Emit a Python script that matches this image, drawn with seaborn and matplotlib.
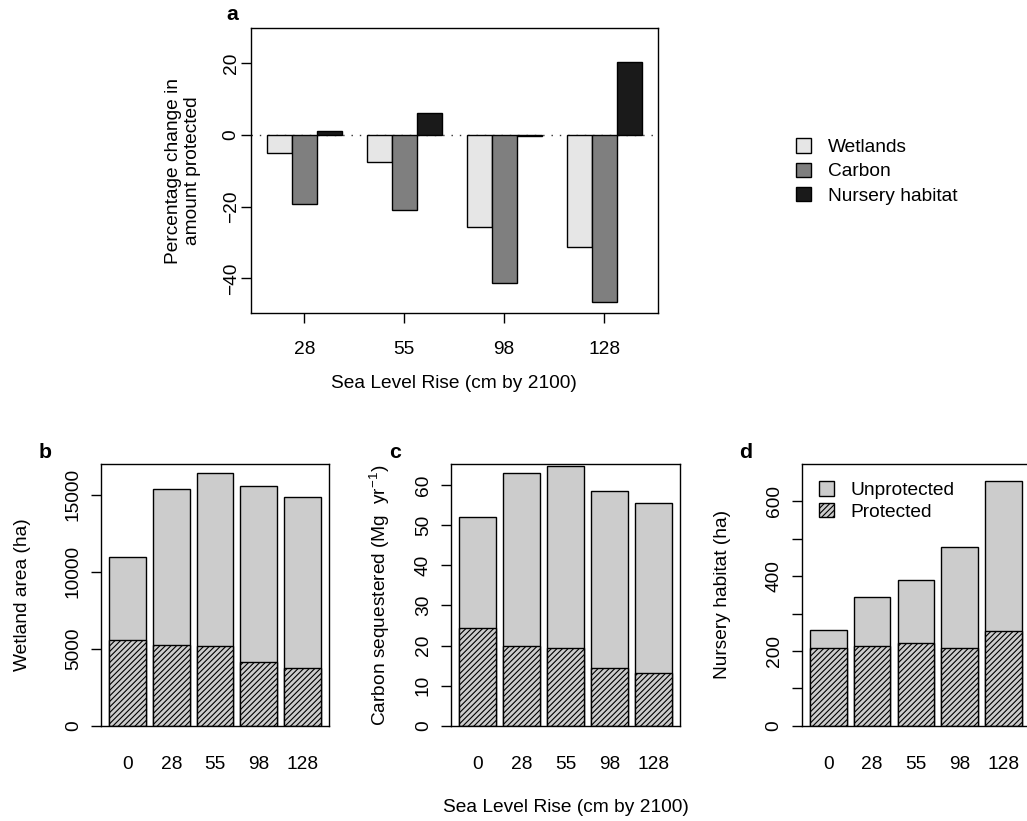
import numpy as np
import pandas as pd
import seaborn as sns
import matplotlib
matplotlib.use("Agg")
import matplotlib.pyplot as plt
from matplotlib.patches import Patch

# ---------------- data ----------------
slr_change = ["28", "55", "98", "128"]
series_names = ["Wetlands", "Carbon", "Nursery habitat"]
pct_wetlands = [-4.9, -7.5, -25.7, -31.3]
pct_carbon = [-19.2, -20.9, -41.2, -46.6]
pct_nursery = [1.2, 6.1, -0.4, 20.4]

slr = ["0", "28", "55", "98", "128"]
wet_total = [10950, 15350, 16430, 15590, 14850]
wet_prot = [5570, 5230, 5160, 4160, 3730]
carb_total = [52.1, 63.0, 64.7, 58.5, 55.5]
carb_prot = [24.4, 19.8, 19.4, 14.3, 13.1]
nurs_total = [256, 345, 389, 478, 655]
nurs_prot = [208, 212, 222, 208, 252]

# ---------------- style ----------------
sns.set_theme(style="white")
plt.rcParams["font.family"] = ["Liberation Sans", "DejaVu Sans"]
plt.rcParams["text.color"] = "black"
plt.rcParams["axes.labelcolor"] = "black"
plt.rcParams["hatch.linewidth"] = 0.8
plt.rcParams["hatch.color"] = "#222222"
plt.rcParams["mathtext.fontset"] = "custom"
plt.rcParams["mathtext.rm"] = "Liberation Sans"
FS = 13.8
TICKLEN = 7.2

W, H = 1027, 821
fig = plt.figure(figsize=(W / 100, H / 100), dpi=100)


def frac(l, t, r, b):
    return [l / W, 1 - b / H, (r - l) / W, (b - t) / H]


def style_box(ax):
    for s in ax.spines.values():
        s.set_visible(True)
        s.set_color("black")
        s.set_linewidth(1.0)


# ---------------- panel a ----------------
axa = fig.add_axes(frac(251, 27.7, 657.5, 313.3))
dfa = pd.DataFrame({
    "slr": np.repeat(slr_change, 3),
    "series": series_names * len(slr_change),
    "value": np.ravel(np.column_stack([pct_wetlands, pct_carbon, pct_nursery])),
})
sns.barplot(data=dfa, x="slr", y="value", hue="series", order=slr_change,
            hue_order=series_names, palette=["#E6E6E6", "#7F7F7F", "#1A1A1A"],
            saturation=1, edgecolor="black", linewidth=1.0, width=0.75,
            errorbar=None, legend=False, ax=axa)
axa.axhline(0, color="#333333", linestyle=(0, (1, 5)), linewidth=1.0, zorder=0)
axa.set_xlim(-0.535, 3.535)
axa.set_ylim(-49.7, 29.9)
style_box(axa)
axa.set_yticks([-40, -20, 0, 20])
axa.set_yticklabels(["\u221240", "\u221220", "0", "20"], rotation=90, va="center")
axa.set_xticks(range(len(slr_change)))
axa.set_xticklabels(slr_change)
axa.tick_params(axis="both", direction="out", length=TICKLEN, width=1.0,
                labelsize=FS, colors="black", bottom=True, left=True)
axa.tick_params(axis="x", pad=13)
axa.tick_params(axis="y", pad=1)
axa.set_xlabel("Sea Level Rise (cm by 2100)", fontsize=FS, labelpad=12)
axa.set_ylabel("")
axa.text(-0.168, 0.5, "Percentage change in\namount protected", transform=axa.transAxes,
         rotation=90, ha="center", va="center", fontsize=FS, linespacing=1.15)
axa.text(-0.045, 1.045, "a", transform=axa.transAxes, fontsize=FS + 1.5,
         fontweight="bold", ha="center", va="center")
handles = [Patch(facecolor=c, edgecolor="black", linewidth=1.0)
           for c in ["#E6E6E6", "#7F7F7F", "#1A1A1A"]]
fig.legend(handles, series_names, loc="center left",
           bbox_to_anchor=(796 / W, 1 - 171.5 / H), frameon=False, fontsize=FS,
           handlelength=0.8, handleheight=0.8, handletextpad=0.85,
           labelspacing=0.33, borderaxespad=0, borderpad=0)

# ---------------- panels b-d ----------------
PROT_HATCH = "//////"
UNPROT = "#CCCCCC"


def stacked(ax, total, prot, ylim, yticks, yticklabels, ylabel, ylab_x, letter):
    df = pd.DataFrame({"slr": slr, "total": total, "prot": prot})
    sns.barplot(data=df, x="slr", y="total", order=slr, color=UNPROT, saturation=1,
                edgecolor="black", linewidth=1.0, width=0.833, errorbar=None, ax=ax)
    sns.barplot(data=df, x="slr", y="prot", order=slr, color=UNPROT, saturation=1,
                edgecolor="black", linewidth=1.0, width=0.833, errorbar=None,
                hatch=PROT_HATCH, ax=ax)
    ax.set_xlim(-0.61, 4.61)
    ax.set_ylim(*ylim)
    style_box(ax)
    ax.set_yticks(yticks)
    ax.set_yticklabels(yticklabels, rotation=90, va="center")
    ax.tick_params(axis="y", direction="out", length=TICKLEN, width=1.0, labelsize=FS,
                   colors="black", left=True, pad=6.5)
    ax.tick_params(axis="x", length=0, labelsize=FS, colors="black", pad=21.5)
    ax.set_xlabel("")
    ax.set_ylabel("")
    ax.text(ylab_x, 0.5, ylabel, transform=ax.transAxes, rotation=90,
            ha="center", va="center", fontsize=FS)
    ax.text(-0.245, 1.045, letter, transform=ax.transAxes, fontsize=FS + 1.5,
            fontweight="bold", ha="center", va="center")


axb = fig.add_axes(frac(101, 464, 329, 725.7))
stacked(axb, wet_total, wet_prot, (0, 17000), [0, 5000, 10000, 15000],
        ["0", "5000", "10000", "15000"], "Wetland area (ha)", -0.345, "b")

axc = fig.add_axes(frac(451, 464, 680, 725.7))
stacked(axc, carb_total, carb_prot, (0, 65.3), [0, 10, 20, 30, 40, 50, 60],
        ["0", "10", "20", "30", "40", "50", "60"],
        "Carbon sequestered (Mg  yr$^{-1}$)", -0.31, "c")
axc.set_xlabel("Sea Level Rise (cm by 2100)", fontsize=FS, labelpad=19)

axd = fig.add_axes(frac(801.7, 464, 1030, 725.7))
stacked(axd, nurs_total, nurs_prot, (0, 700), list(range(0, 700, 100)),
        ["0", "", "200", "", "400", "", "600"], "Nursery habitat (ha)", -0.345, "d")
leg_handles = [Patch(facecolor=UNPROT, edgecolor="black", linewidth=1.0),
               Patch(facecolor=UNPROT, edgecolor="black", linewidth=1.0, hatch=PROT_HATCH)]
axd.legend(leg_handles, ["Unprotected", "Protected"], loc="upper left",
           bbox_to_anchor=(0.075, 0.935), frameon=False, fontsize=FS,
           handlelength=0.8, handleheight=0.8, handletextpad=0.85,
           labelspacing=0.2, borderaxespad=0, borderpad=0)

fig.savefig("out.png", dpi=100, facecolor="white")
